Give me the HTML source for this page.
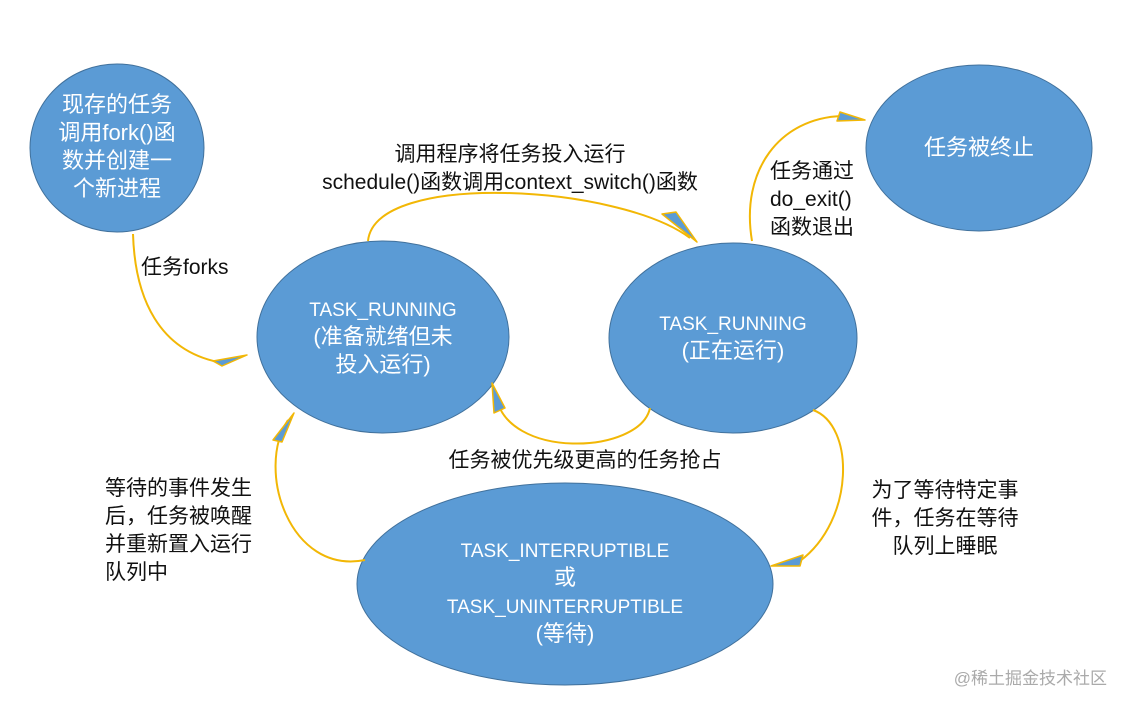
<!DOCTYPE html>
<html><head><meta charset="utf-8"><style>
body{margin:0;background:#fff;}
svg text{font-family:"Liberation Sans","Noto Sans CJK SC",sans-serif;}
</style></head><body>
<svg width="1127" height="708" viewBox="0 0 1127 708" xmlns="http://www.w3.org/2000/svg">
<g fill="#5b9bd5" stroke="#41719c" stroke-width="1">
<ellipse cx="117" cy="148" rx="87" ry="84"/>
<ellipse cx="383" cy="337" rx="126" ry="96"/>
<ellipse cx="733" cy="338" rx="124" ry="95"/>
<ellipse cx="979" cy="148" rx="113" ry="83"/>
<ellipse cx="565" cy="584" rx="208" ry="101"/>
</g>
<g fill="none" stroke="#f2b705" stroke-width="2">
<path d="M133,234 C135,300 160,350 218,362"/>
<path d="M368,241 C375,170 620,185 690,238"/>
<path d="M650,408 C640,455 505,460 496,395"/>
<path d="M752,241 C740,170 780,118 842,116"/>
<path d="M813,410 C855,425 855,520 800,561"/>
<path d="M365,560 C290,575 255,470 288,420"/>
</g>
<g fill="#5b9bd5" stroke="#f2b705" stroke-width="1.5" stroke-linejoin="round">
<polygon points="247,355 213,361 222,366"/>
<polygon points="697,242 662,214 676,212"/>
<polygon points="492,383 494,413 505,408"/>
<polygon points="294,413 273,440 282,442"/>
<polygon points="865,120 840,112 837,121"/>
<polygon points="771,566 803,555 800,566"/>
</g>
<g fill="#fff" font-size="22" text-anchor="middle">
<text x="117" y="112">现存的任务</text>
<text x="117" y="140">调用fork()函</text>
<text x="117" y="168">数并创建一</text>
<text x="117" y="196">个新进程</text>
<text x="383" y="316" font-size="19">TASK_RUNNING</text>
<text x="383" y="344">(准备就绪但未</text>
<text x="383" y="372">投入运行)</text>
<text x="733" y="330" font-size="19">TASK_RUNNING</text>
<text x="733" y="358">(正在运行)</text>
<text x="979" y="155">任务被终止</text>
<text x="565" y="557" font-size="19">TASK_INTERRUPTIBLE</text>
<text x="565" y="585">或</text>
<text x="565" y="613" font-size="19">TASK_UNINTERRUPTIBLE</text>
<text x="565" y="641">(等待)</text>
</g>
<g fill="#111" font-size="21">
<text x="510" y="161" text-anchor="middle">调用程序将任务投入运行</text>
<text x="510" y="189" text-anchor="middle">schedule()函数调用context_switch()函数</text>
<text x="141" y="274">任务forks</text>
<text x="770" y="178">任务通过</text>
<text x="770" y="206">do_exit()</text>
<text x="770" y="234">函数退出</text>
<text x="585" y="467" text-anchor="middle">任务被优先级更高的任务抢占</text>
<text x="105" y="495">等待的事件发生</text>
<text x="105" y="523">后，任务被唤醒</text>
<text x="105" y="551">并重新置入运行</text>
<text x="105" y="579">队列中</text>
<text x="945" y="497" text-anchor="middle">为了等待特定事</text>
<text x="945" y="525" text-anchor="middle">件，任务在等待</text>
<text x="945" y="553" text-anchor="middle">队列上睡眠</text>
</g>
<text x="1107" y="684" font-size="17" fill="#aaa" text-anchor="end">@稀土掘金技术社区</text>
</svg>
</body></html>
